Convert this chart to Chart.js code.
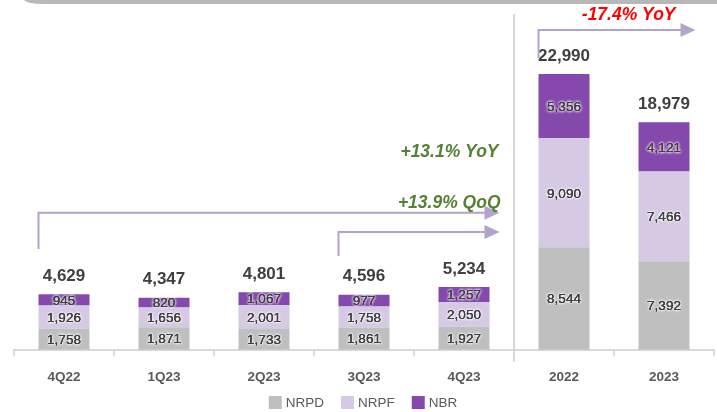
<!DOCTYPE html>
<html>
<head>
<meta charset="utf-8">
<script src="https://cdn.jsdelivr.net/npm/chart.js@4.4.0/dist/chart.umd.min.js"></script>
<style>
html, body { margin: 0; padding: 0; background: #fff; }
</style>
</head>
<body>
<canvas id="myChart" width="717" height="412"></canvas>
<script>
const periods = ["4Q22", "1Q23", "2Q23", "3Q23", "4Q23", "2022", "2023"];
const nrpd = [1758, 1871, 1733, 1861, 1927, 8544, 7392];
const nrpf = [1926, 1656, 2001, 1758, 2050, 9090, 7466];
const nbr = [945, 820, 1067, 977, 1257, 5356, 4121];
const totals = [4629, 4347, 4801, 4596, 5234, 22990, 18979];

const FONT = '"Liberation Sans", Arial, sans-serif';
const arrowColor = '#b4a3cd';

function fmt(v) {
  return v.toLocaleString('en-US');
}

function glowText(ctx, txt, x, y) {
  ctx.save();
  ctx.shadowColor = 'rgba(255,255,255,1)';
  ctx.shadowBlur = 3;
  ctx.fillStyle = '#404040';
  for (let i = 0; i < 3; i++) ctx.fillText(txt, x, y);
  ctx.restore();
  ctx.fillStyle = '#404040';
  ctx.fillText(txt, x, y);
}

function drawArrow(ctx, x0, yBottom, yTop, xTip) {
  ctx.save();
  ctx.strokeStyle = arrowColor;
  ctx.fillStyle = arrowColor;
  ctx.lineWidth = 2;
  ctx.beginPath();
  ctx.moveTo(x0, yBottom);
  ctx.lineTo(x0, yTop);
  ctx.lineTo(xTip - 14, yTop);
  ctx.stroke();
  ctx.beginPath();
  ctx.moveTo(xTip, yTop);
  ctx.lineTo(xTip - 15, yTop - 7);
  ctx.lineTo(xTip - 15, yTop + 7);
  ctx.closePath();
  ctx.fill();
  ctx.restore();
}

const extras = {
  id: 'extras',
  beforeDraw(chart) {
    const ctx = chart.ctx;
    const x = chart.scales.x;
    // grey strip at the top
    ctx.save();
    ctx.fillStyle = '#b8b8b8';
    ctx.beginPath();
    ctx.moveTo(24, 0);
    ctx.quadraticCurveTo(28, 4, 42, 4);
    ctx.lineTo(717, 4);
    ctx.lineTo(717, 0);
    ctx.closePath();
    ctx.fill();
    // separator between quarters and years
    const sep = (x.getPixelForValue(4) + x.getPixelForValue(5)) / 2;
    ctx.strokeStyle = '#c8c8c8';
    ctx.lineWidth = 1.5;
    ctx.beginPath();
    ctx.moveTo(sep, 14);
    ctx.lineTo(sep, chart.chartArea.bottom + 12);
    ctx.stroke();
    ctx.restore();
  },
  afterDatasetsDraw(chart) {
    const ctx = chart.ctx;
    const y = chart.scales.y;
    ctx.save();
    ctx.textAlign = 'center';
    ctx.textBaseline = 'middle';
    ctx.font = '13.5px ' + FONT;
    chart.data.datasets.forEach((ds, di) => {
      chart.getDatasetMeta(di).data.forEach((bar, i) => {
        glowText(ctx, fmt(ds.data[i]), bar.x, (bar.y + bar.base) / 2 + 1);
      });
    });
    // totals
    ctx.font = 'bold 17px ' + FONT;
    ctx.fillStyle = '#404040';
    const top = chart.getDatasetMeta(2).data;
    totals.forEach((t, i) => {
      ctx.fillText(fmt(t), top[i].x, top[i].y - 18);
    });

    // growth arrows
    const bars = chart.getDatasetMeta(0).data;
    const left = i => bars[i].x - bars[i].width / 2;
    const right = i => bars[i].x + bars[i].width / 2;
    drawArrow(ctx, left(0), y.getPixelForValue(8400), y.getPixelForValue(11420), right(4) + 10);
    drawArrow(ctx, left(3), y.getPixelForValue(7830), y.getPixelForValue(9830), right(4) + 10);
    drawArrow(ctx, left(5), y.getPixelForValue(24330), y.getPixelForValue(26660), right(6) + 6);

    ctx.font = 'italic bold 17.5px ' + FONT;
    ctx.textAlign = 'right';
    ctx.fillStyle = '#548235';
    ctx.fillText('+13.1% YoY', right(4) + 9, y.getPixelForValue(16490));
    ctx.fillText('+13.9% QoQ', right(4) + 11, y.getPixelForValue(12245));
    ctx.fillStyle = '#ff0000';
    ctx.fillText('-17.4% YoY', right(6) - 14, y.getPixelForValue(27900));

    // legend
    ctx.font = '13.5px ' + FONT;
    ctx.textAlign = 'left';
    const items = chart.data.datasets;
    const widths = items.map(d => 13 + 4 + ctx.measureText(d.label).width);
    const total = widths.reduce((a, b) => a + b, 0) + 17 * (items.length - 1);
    let lx = 363 - total / 2;
    const ly = 402;
    items.forEach((d, i) => {
      ctx.fillStyle = d.backgroundColor;
      ctx.fillRect(lx, ly - 6, 13, 13);
      ctx.fillStyle = '#595959';
      ctx.fillText(d.label, lx + 17, ly + 1);
      lx += widths[i] + 17;
    });
    ctx.restore();
  }
};

new Chart('myChart', {
  type: 'bar',
  data: {
    labels: periods,
    datasets: [
      { label: 'NRPD', data: nrpd, backgroundColor: '#bfbfbf' },
      { label: 'NRPF', data: nrpf, backgroundColor: '#d5c9e3' },
      { label: 'NBR', data: nbr, backgroundColor: '#8548ad' }
    ]
  },
  options: {
    responsive: false,
    animation: false,
    layout: { padding: { top: 14, left: 14, right: 3, bottom: 14 } },
    datasets: { bar: { barPercentage: 0.51, categoryPercentage: 1 } },
    scales: {
      x: {
        stacked: true,
        grid: { offset: true, drawOnChartArea: false, tickLength: 6, color: '#d9d9d9', lineWidth: 2 },
        border: { color: '#d9d9d9', width: 2 },
        ticks: { color: '#595959', font: { family: FONT, size: 13.5, weight: 'bold' }, padding: 13 }
      },
      y: { stacked: true, display: false, min: 0, max: 28000 }
    },
    plugins: {
      legend: { display: false },
      tooltip: { enabled: false }
    }
  },
  plugins: [extras]
});
</script>
</body>
</html>
